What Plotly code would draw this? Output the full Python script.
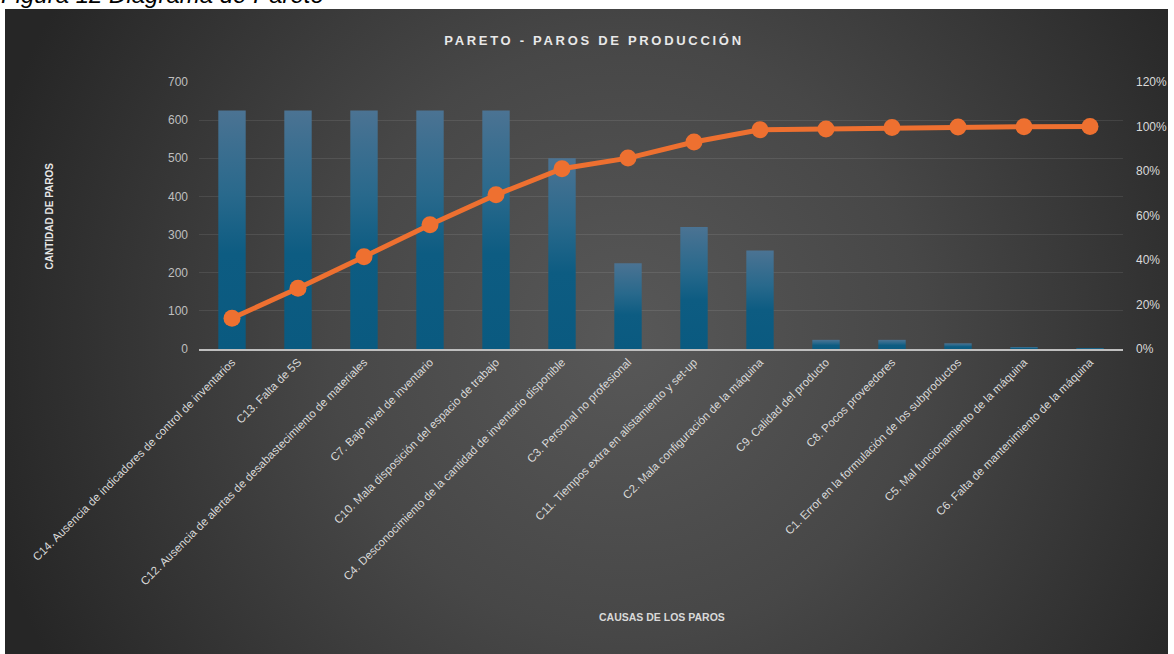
import base64
import plotly.graph_objects as go

# ---------------- data ----------------
categories = [
    "C14. Ausencia de indicadores de control de inventarios",
    "C13. Falta de 5S",
    "C12. Ausencia de alertas de desabastecimiento de materiales",
    "C7. Bajo nivel de inventario",
    "C10. Mala disposición del espacio de trabajo",
    "C4. Desconocimiento de la cantidad de inventario disponible",
    "C3. Personal no profesional",
    "C11. Tiempos extra en alistamiento y set-up",
    "C2. Mala configuración de la máquina",
    "C9. Calidad del producto",
    "C8. Pocos proveedores",
    "C1. Error en la formulación de los subproductos",
    "C5. Mal funcionamiento de la máquina",
    "C6. Falta de mantenimiento de la máquina",
]
paros = [625, 625, 625, 625, 625, 500, 225, 320, 258, 24, 24, 15, 3, 1]
acumulado = [0.138, 0.273, 0.415, 0.558, 0.693, 0.81, 0.858, 0.93, 0.985,
             0.989, 0.995, 0.998, 0.999, 1.0]

left_ticks = [0, 100, 200, 300, 400, 500, 600, 700]
right_ticks = [0, 0.2, 0.4, 0.6, 0.8, 1.0, 1.2]

title_text = "PARETO - PAROS DE PRODUCCIÓN"
y_title = "CANTIDAD DE PAROS"
x_title = "CAUSAS DE LOS PAROS"
caption = "Figura 12 Diagrama de Pareto"

# ---------------- layout geometry ----------------
W, H = 1174, 654
L, R, T, B = 199, 51, 82, 305
PW, PH = W - L - R, H - T - B


def px(x):
    return (x - L) / PW


def py(y):
    return (H - B - y) / PH


FONT = "Liberation Sans, Arial, sans-serif"

# background radial gradient (svg image)
svg = (
    "<svg xmlns='http://www.w3.org/2000/svg' width='1163' height='645' "
    "viewBox='0 0 1163 645' preserveAspectRatio='none'><defs>"
    "<radialGradient id='bg' gradientUnits='userSpaceOnUse' cx='620' cy='330' r='660'>"
    "<stop offset='0' stop-color='#585858'/>"
    "<stop offset='0.45' stop-color='#474747'/>"
    "<stop offset='1' stop-color='#262626'/>"
    "</radialGradient></defs>"
    "<rect width='1163' height='645' fill='url(#bg)'/></svg>"
)
svg_uri = "data:image/svg+xml;base64," + base64.b64encode(svg.encode()).decode()

fig = go.Figure()

fig.add_trace(go.Bar(
    x=categories, y=paros, name="Paros",
    marker=dict(color="#1d6589", line=dict(width=0)),
    yaxis="y",
))

fig.add_trace(go.Scatter(
    x=categories, y=acumulado, name="% acumulado",
    mode="lines+markers",
    line=dict(color="#EE7030", width=5),
    marker=dict(color="#EE7030", size=17, line=dict(width=0)),
    yaxis="y2",
))

fig.update_layout(
    width=W, height=H,
    margin=dict(l=L, r=R, t=T, b=B, autoexpand=False),
    paper_bgcolor="white",
    plot_bgcolor="rgba(0,0,0,0)",
    font=dict(family=FONT, color="#d9d9d9"),
    showlegend=False,
    bargap=0.585,
    title=dict(
        text=title_text, x=594 / W, xanchor="center", y=1 - 40 / H, yanchor="middle",
        font=dict(size=13, color="#e8e8e8", weight="bold", family=FONT),
    ),
    xaxis=dict(
        type="category", range=[-0.5, len(categories) - 0.5],
        tickangle=-45, tickfont=dict(size=11.5, color="#d9d9d9"),
        showgrid=False, zeroline=False, showline=True,
        linecolor="#bfbfbf", linewidth=2, ticks="", automargin=False,
    ),
    yaxis=dict(
        range=[0, 700], tickvals=left_ticks, tickfont=dict(size=12, color="#bfbfbf"),
        showgrid=True, gridcolor="rgba(255,255,255,0.09)", gridwidth=1,
        zeroline=False, showline=False, ticks="", ticklabelstandoff=10,
        automargin=False,
    ),
    yaxis2=dict(
        overlaying="y", side="right", range=[0, 1.2], tickvals=right_ticks,
        tickformat=".0%", tickfont=dict(size=12, color="#d9d9d9"),
        showgrid=False, zeroline=False, showline=False, ticks="",
        ticklabelstandoff=12, automargin=False,
    ),
    images=[dict(
        source=svg_uri, xref="paper", yref="paper",
        x=px(5), y=py(9), sizex=(1168 - 5) / PW, sizey=(H - 9) / PH,
        xanchor="left", yanchor="top", sizing="stretch", layer="below",
    )],
    annotations=[
        dict(text=y_title, x=px(49), y=py(216.5), xref="paper", yref="paper",
             showarrow=False, textangle=-90, xanchor="center", yanchor="middle",
             font=dict(size=10, color="#e6e6e6", weight="bold", family=FONT)),
        dict(text=x_title, x=px(662), y=py(617), xref="paper", yref="paper",
             showarrow=False, xanchor="center", yanchor="middle",
             font=dict(size=10.5, color="#d9d9d9", weight="bold", family=FONT)),
        dict(text=caption, x=px(-1), y=py(10), xref="paper", yref="paper",
             showarrow=False, xanchor="left", yanchor="bottom",
             font=dict(size=24, color="black", style="italic", family=FONT)),
    ],
)

post = """
var gd = document.getElementById('{plot_id}');
var titles = gd.querySelectorAll('.gtitle');
titles.forEach(function(t){ t.style.letterSpacing = '2.7px'; });
var svgs = gd.querySelectorAll('svg.main-svg');
var main = svgs[0];
var ns = 'http://www.w3.org/2000/svg';
var defs = main.querySelector('defs');
if (!defs) { defs = document.createElementNS(ns, 'defs'); main.insertBefore(defs, main.firstChild); }
var lg = document.createElementNS(ns, 'linearGradient');
lg.setAttribute('id', 'bargrad');
lg.setAttribute('x1', '0'); lg.setAttribute('y1', '0');
lg.setAttribute('x2', '0'); lg.setAttribute('y2', '1');
[['0', '#4b7393'], ['0.35', '#29698c'], ['0.6', '#0d5c82'], ['1', '#0a5a80']].forEach(function(s){
  var st = document.createElementNS(ns, 'stop');
  st.setAttribute('offset', s[0]); st.setAttribute('stop-color', s[1]);
  lg.appendChild(st);
});
defs.appendChild(lg);
gd.querySelectorAll('.bars .point path').forEach(function(p){ p.style.fill = 'url(#bargrad)'; });
"""

fig.write_html("out.html", post_script=post)
